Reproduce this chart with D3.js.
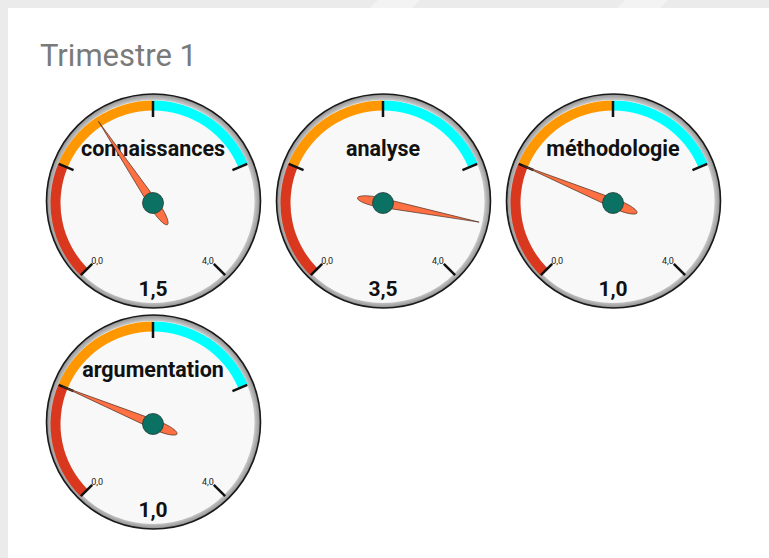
<!DOCTYPE html>
<html>
<head>
<meta charset="utf-8">
<script src="https://cdn.jsdelivr.net/npm/d3@7"></script>
<style>
  body { margin: 0; background: #ebebeb; font-family: Roboto, "Noto Sans", sans-serif; }
  #chart { width: 769px; height: 558px; }
</style>
</head>
<body>
<div id="chart"></div>
<script>
// gauge data
var titre = "Trimestre 1";
var criteres = ["connaissances", "analyse", "méthodologie", "argumentation"];
var notes = [1.5, 3.5, 1.0, 1.0];
var echelle = [0, 4];
var graduations = [0, 1, 2, 3, 4];
var zoneDebut = [0, 1, 2];
var zoneFin = [1, 2, 3];
var zoneCouleurs = ["#d9381e", "#ff9800", "#00ffff"];

var width = 769, height = 558;
var cols = 3, colStep = 230, rowStep = 221;
var x0 = 153, y0 = 203;

var fmt = function(v){ return d3.format(".1f")(v).replace(".", ","); };

var angle = d3.scaleLinear().domain(echelle).range([-135, 135]);
var rad = function(d){ return d * Math.PI / 180; };

var svg = d3.select("#chart")
    .append("svg")
    .attr("width", width)
    .attr("height", height);

var defs = svg.append("defs");
var grad = defs.append("radialGradient").attr("id", "bezel");
grad.append("stop").attr("offset", "87%").attr("stop-color", "#ffffff");
grad.append("stop").attr("offset", "94%").attr("stop-color", "#cfcfcf");
grad.append("stop").attr("offset", "100%").attr("stop-color", "#8e8e8e");

// page background + card
svg.append("polygon").attr("points", "378,0 420,0 412,8 370,8").attr("fill", "#f3f3f3");
svg.append("polygon").attr("points", "625,0 668,0 660,8 617,8").attr("fill", "#f3f3f3");
svg.append("rect")
    .attr("x", 8).attr("y", 8)
    .attr("width", width - 8).attr("height", height - 8)
    .attr("fill", "#ffffff");

svg.append("text")
    .attr("x", 40).attr("y", 66)
    .attr("fill", "#7a7a7a")
    .style("font-size", "31px")
    .text(titre);

var arc = d3.arc().innerRadius(92.5).outerRadius(102.5);

criteres.forEach(function(nom, i){
    var cx = x0 + (i % cols) * colStep,
        cy = y0 + Math.floor(i / cols) * rowStep;

    var g = svg.append("g").attr("transform", "translate(" + cx + "," + cy + ")");

    // bezel and face
    g.append("circle")
        .attr("cx", 0.5).attr("cy", -2)
        .attr("r", 107)
        .attr("fill", "url(#bezel)")
        .attr("stroke", "#1a1a1a")
        .attr("stroke-width", 1.6);
    g.append("circle")
        .attr("cx", 0).attr("cy", -1.5)
        .attr("r", 101.5)
        .attr("fill", "#f8f8f8");

    // coloured zones
    zoneDebut.forEach(function(d, j){
        g.append("path")
            .attr("d", arc({startAngle: rad(angle(d)), endAngle: rad(angle(zoneFin[j]))}))
            .attr("fill", zoneCouleurs[j]);
    });

    // ticks
    g.selectAll(".tick")
        .data(graduations)
        .enter().append("line")
        .attr("x1", function(d){ return 86 * Math.sin(rad(angle(d))); })
        .attr("y1", function(d){ return -86 * Math.cos(rad(angle(d))); })
        .attr("x2", function(d){ return 102 * Math.sin(rad(angle(d))); })
        .attr("y2", function(d){ return -102 * Math.cos(rad(angle(d))); })
        .attr("stroke", "#111")
        .attr("stroke-width", 2.5);

    // min / max labels
    g.selectAll(".lbl")
        .data(echelle)
        .enter().append("text")
        .attr("x", function(d, k){ return 86 * Math.sin(rad(angle(d))) + (k ? 0 : -1); })
        .attr("y", function(d){ return -86 * Math.cos(rad(angle(d))); })
        .attr("text-anchor", function(d, k){ return k ? "end" : "start"; })
        .attr("fill", "#222")
        .style("font-size", "9px")
        .text(function(d){ return fmt(d); });

    // title
    g.append("text")
        .attr("x", 0).attr("y", -47)
        .attr("text-anchor", "middle")
        .attr("fill", "#111")
        .style("font-size", "21.5px")
        .style("font-weight", "bold")
        .text(nom);

    // value
    g.append("text")
        .attr("x", 0).attr("y", 93)
        .attr("text-anchor", "middle")
        .attr("fill", "#111")
        .style("font-size", "21px")
        .style("font-weight", "bold")
        .text(fmt(notes[i]));

    // needle
    g.append("path")
        .attr("d", "M0,-98 L4.5,0 C5.5,14 3,26 0,26 C-3,26 -5.5,14 -4.5,0 Z")
        .attr("transform", "rotate(" + angle(notes[i]) + ")")
        .attr("fill", "#ff7043")
        .attr("stroke", "#3a2a20")
        .attr("stroke-width", 0.6);

    g.append("circle")
        .attr("r", 10.5)
        .attr("fill", "#0a7163")
        .attr("stroke", "#2a3a35")
        .attr("stroke-width", 0.8);
});
</script>
</body>
</html>
